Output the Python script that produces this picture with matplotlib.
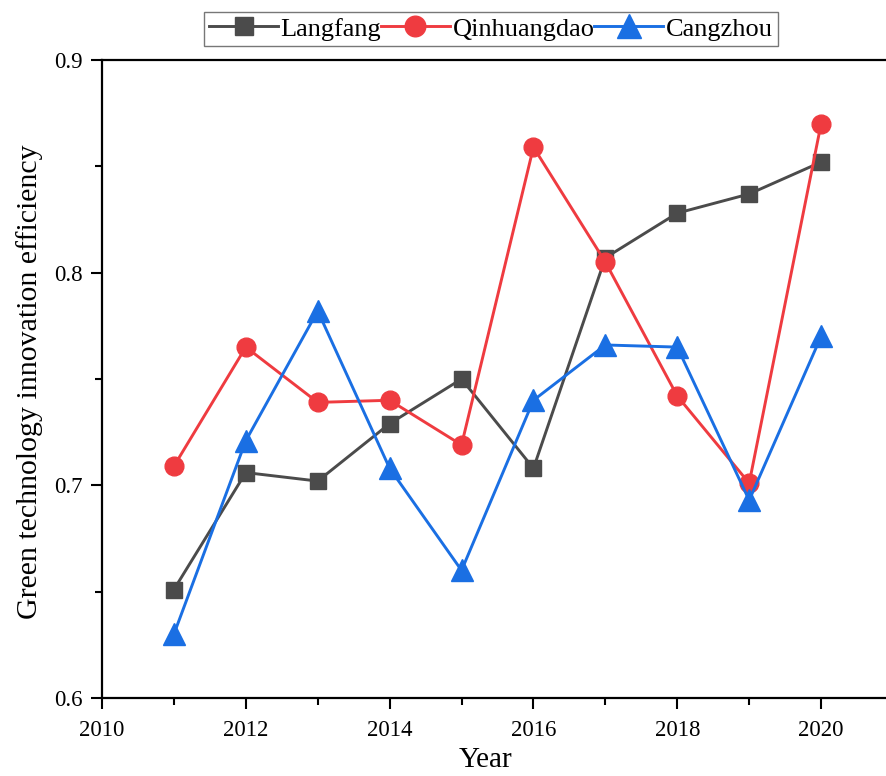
import matplotlib
matplotlib.use("Agg")
import matplotlib.pyplot as plt

plt.rcParams['font.family'] = ['Liberation Serif', 'DejaVu Serif']

years = [2011, 2012, 2013, 2014, 2015, 2016, 2017, 2018, 2019, 2020]
langfang = [0.651, 0.706, 0.702, 0.729, 0.750, 0.708, 0.807, 0.828, 0.837, 0.852]
qinhuangdao = [0.709, 0.765, 0.739, 0.740, 0.719, 0.859, 0.805, 0.742, 0.701, 0.870]
cangzhou = [0.630, 0.721, 0.782, 0.708, 0.660, 0.740, 0.766, 0.765, 0.693, 0.770]
series_names = ["Langfang", "Qinhuangdao", "Cangzhou"]
xticks = [2010, 2012, 2014, 2016, 2018, 2020]
yticks = [0.6, 0.7, 0.8, 0.9]

fig = plt.figure(figsize=(8.86, 7.76), dpi=100)
ax = fig.add_axes([102/886, 78/776, 791/886, 638/776])

ax.plot(years, langfang, color='#4b4b4b', marker='s', markersize=11.5, lw=2.1, label=series_names[0])
ax.plot(years, qinhuangdao, color='#ef3b40', marker='o', markersize=13.5, lw=2.1, label=series_names[1])
ax.plot(years, cangzhou, color='#1a6fe3', marker='^', markersize=16, lw=2.1, label=series_names[2])

ax.set_xlim(2010, 2021)
ax.set_ylim(0.6, 0.9)
ax.set_xticks(xticks)
ax.set_xticks([2011, 2013, 2015, 2017, 2019], minor=True)
ax.set_yticks(yticks)
ax.set_yticks([0.65, 0.75, 0.85], minor=True)
ax.set_xticklabels([str(v) for v in xticks])
ax.set_yticklabels([f"{v:.1f}" for v in yticks])
ax.tick_params(axis='both', which='major', direction='out', length=8, width=1.5, labelsize=16.5)
ax.tick_params(axis='x', which='major', pad=8)
ax.tick_params(axis='y', which='major', pad=6)
ax.tick_params(axis='both', which='minor', direction='out', length=5, width=1.5)
for s in ax.spines.values():
    s.set_linewidth(1.6)
ax.spines['right'].set_visible(False)

ax.set_xlabel("Year", fontsize=21)
ax.xaxis.set_label_coords((486 - 102) / 791, -(767 - 698) / 638)
ax.xaxis.label.set_va('baseline')
ax.set_ylabel("Green technology innovation efficiency", fontsize=21.5)
ax.yaxis.set_label_coords(-(102 - 43) / 791, (698 - 382) / 638)

leg = fig.legend(loc='center', bbox_to_anchor=(491/886, 1 - 29/776), ncol=3,
                 fontsize=19, frameon=True, fancybox=False, edgecolor='#555555',
                 handlelength=2.6, columnspacing=0.0, handletextpad=0.1,
                 borderpad=0.2, borderaxespad=0, markerscale=1.1)
leg.get_frame().set_linewidth(1.0)

fig.savefig("out.png", dpi=100)
